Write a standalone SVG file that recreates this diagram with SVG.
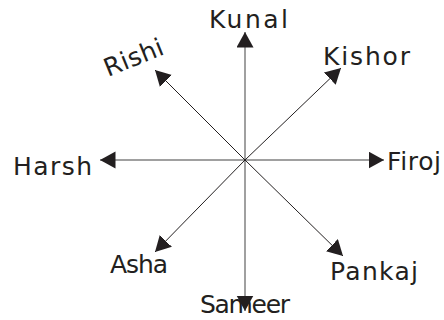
<svg xmlns="http://www.w3.org/2000/svg" width="444" height="320" viewBox="0 0 444 320">
<style>
.lbl{font-family:"DejaVu Sans","Liberation Sans",sans-serif;font-size:25px;fill:#231f20}
.axis{stroke:#808080;stroke-width:1.5;fill:none}
.diag{stroke:#231f20;stroke-width:1;fill:none}
</style>
<defs>
<marker id="ah" markerUnits="userSpaceOnUse" markerWidth="16" markerHeight="18" viewBox="0 0 16 18" refX="15.5" refY="8.5" orient="auto">
<path d="M0,0 L15.5,8.5 L0,17 Z" fill="#231f20"/>
</marker>
</defs>
<rect width="444" height="320" fill="#fff"/>
<g id="connectors">
<line class="axis" x1="245" y1="160" x2="245" y2="32" marker-end="url(#ah)"/>
<line class="axis" x1="245" y1="160" x2="245" y2="311" marker-end="url(#ah)"/>
<line class="axis" x1="245" y1="160" x2="100" y2="160" marker-end="url(#ah)"/>
<line class="axis" x1="245" y1="160" x2="384" y2="160" marker-end="url(#ah)"/>
<line class="diag" x1="245" y1="160" x2="155" y2="70" marker-end="url(#ah)"/>
<line class="diag" x1="245" y1="160" x2="341" y2="68" marker-end="url(#ah)"/>
<line class="diag" x1="245" y1="160" x2="155" y2="252" marker-end="url(#ah)"/>
<line class="diag" x1="245" y1="160" x2="343" y2="256" marker-end="url(#ah)"/>
</g>
<g id="kunal"><text class="lbl" x="209" y="28" textLength="79" lengthAdjust="spacing">Kunal</text></g>
<g id="rishi"><text class="lbl" transform="translate(108,77) rotate(-22)" textLength="62" lengthAdjust="spacing">Rishi</text></g>
<g id="kishor"><text class="lbl" x="323" y="65" textLength="87" lengthAdjust="spacing">Kishor</text></g>
<g id="harsh"><text class="lbl" x="13" y="175" textLength="79" lengthAdjust="spacing">Harsh</text></g>
<g id="firoj"><text class="lbl" x="387" y="170" textLength="54" lengthAdjust="spacing">Firoj</text></g>
<g id="asha"><text class="lbl" x="110" y="273" textLength="58" lengthAdjust="spacing">Asha</text></g>
<g id="pankaj"><text class="lbl" x="330" y="280" textLength="88" lengthAdjust="spacing">Pankaj</text></g>
<g id="sameer"><text class="lbl" x="200" y="313" textLength="90" lengthAdjust="spacing">Sameer</text></g>
</svg>
